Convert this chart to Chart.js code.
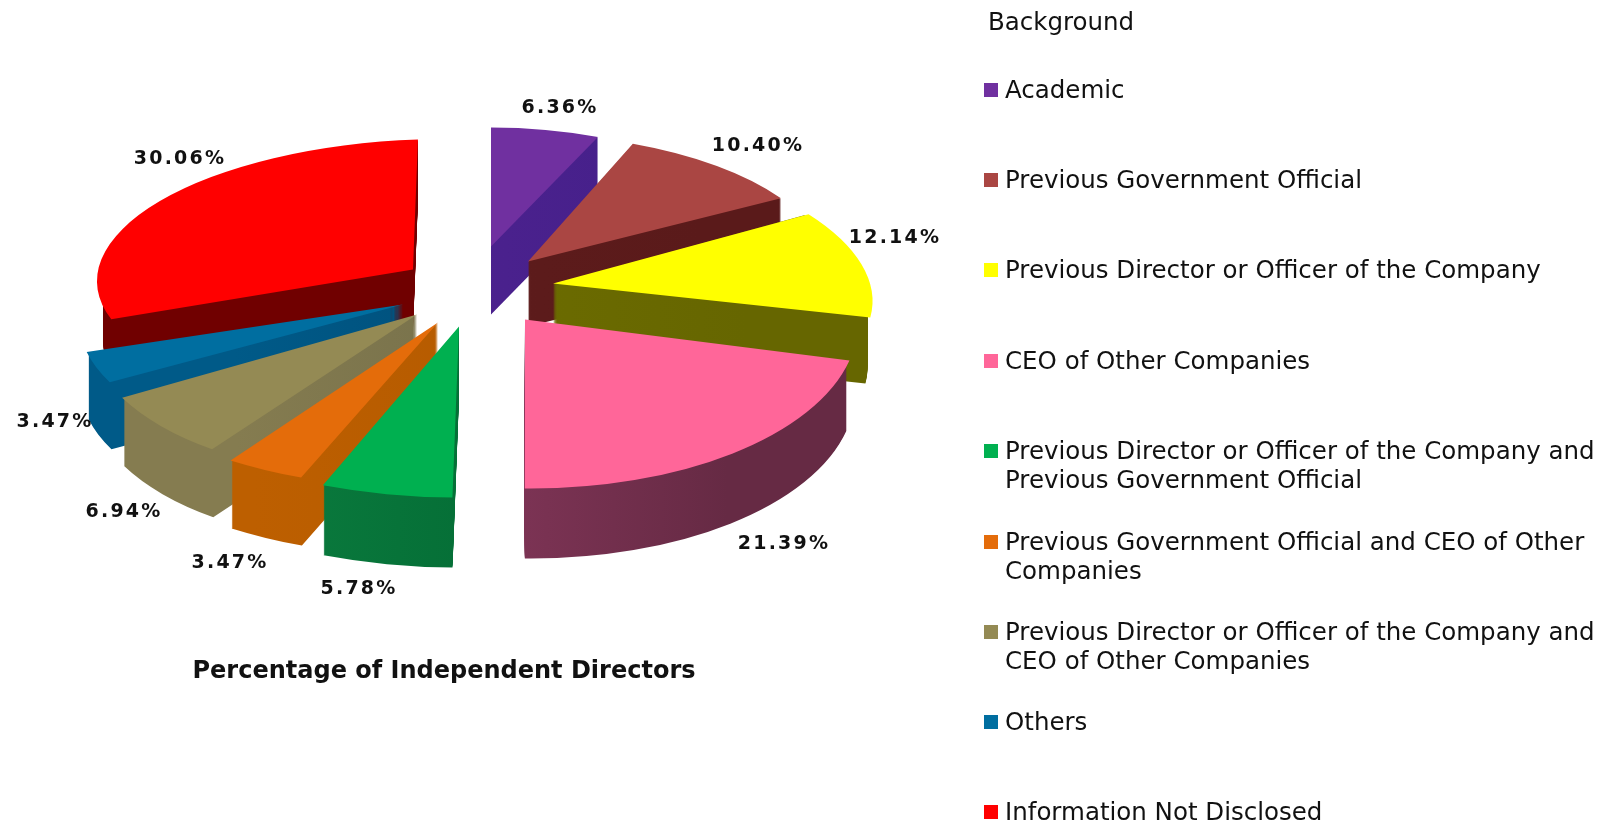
<!DOCTYPE html>
<html>
<head>
<meta charset="utf-8">
<title>Percentage of Independent Directors</title>
<script src="https://cdn.jsdelivr.net/npm/chart.js@4/dist/chart.umd.min.js"></script>
<style>
    html,body{margin:0;padding:0;background:#fff;}
    #wrap{position:relative;width:1604px;height:824px;overflow:hidden;}
    #legend{position:absolute;left:0;top:0;font-family:"DejaVu Sans",sans-serif;font-size:24.5px;line-height:29px;color:#111;}
    .item{position:absolute;left:1005px;width:598px;}
    .mark{position:absolute;left:-21px;top:8px;width:14px;height:14px;}
</style>
</head>
<body>
<div id="wrap">
    <canvas id="pie" width="1604" height="824"></canvas>
    <div id="legend"></div>
</div>
<script>
// DATA
const legendTitle = "Background";
const chartTitle = "Percentage of Independent Directors";
const categories = [
    "Academic",
    "Previous Government Official",
    "Previous Director or Officer of the Company",
    "CEO of Other Companies",
    "Previous Director or Officer of the Company and Previous Government Official",
    "Previous Government Official and CEO of Other Companies",
    "Previous Director or Officer of the Company and CEO of Other Companies",
    "Others",
    "Information Not Disclosed"
];
const values = [6.36,10.40,12.14,21.39,5.78,3.47,6.94,3.47,30.06];

// COLOURS
const faceColors = ["#7030a0","#aa4643","#ffff00","#ff6699","#00b050","#e46c0a","#948a54","#006ea0","#ff0000"];
const wallLeft = ["#4f2290","#5e1c1c","#6e6e00","#8c3a60","#0a7a3d","#bd5f00","#857c50","#005a88","#700000"];
const wallRight = ["#45208a","#5a1a1a","#666600","#662a44","#006330","#b05800","#6e6a48","#004a75","#700000"];

// 3D LOOK: how each slice is pulled out of the pie and flattened
const pullX = [47,84,109,81,15,-6,-27,-41,-31];
const pullY = [-82,-67,-45,-9,-2,-6,-14,-24,-59];
const radiusX = [275,298,317,333,366,368,329,323,316];
const radiusY = [119,128,140,169,171,167,163,152,130];
const skewX = [0,0.094,0.287,0.034,0,0,-0.144,-0.2,-0.038];
const skewY = [0,0,0,0,0,0,0,0,-0.03];
const depth = [68,65,66,70,70,68,68,67,60];
const wallShrink = [0,0,5,3,2,2,2,2,6];
const drawOrder = [8,0,1,2,7,6,5,4,3];

// label spots, relative to pie centre
const labelX = [116,314,451,340,-85,-214,-320,-389,-264];
const labelY = [-221,-183,-91,215,260,234,183,93,-170];

// LEGEND
const legendTop = [75,165,255,346,436,527,617,707,797];
let legend = document.getElementById("legend");
legend.innerHTML = `<div style="position:absolute;left:988px;top:7px">${legendTitle}</div>`;
categories.forEach((c,i)=>{
    legend.innerHTML += `
    <div class="item" style="top:${legendTop[i]}px">
    <span class="mark" style="background:${faceColors[i]}"></span>${c}
    </div>`;
});

// draws every slice as a flattened, extruded arc
const slices3d = {
    id:"slices3d",
    beforeDatasetsDraw(chart){
        let ctx = chart.ctx;
        let arcs = chart.getDatasetMeta(0).data;
        drawOrder.forEach(i=>{
            let arc = arcs[i];
            let base = arc.options;
            let R = arc.outerRadius;
            let grad = ctx.createLinearGradient(arc.x-R,0,arc.x+R,0);
            grad.addColorStop(0.25,wallLeft[i]);
            grad.addColorStop(0.8,wallRight[i]);
            for(let d=depth[i];d>=0;d--){
                let rx = d===0 ? radiusX[i] : radiusX[i]-wallShrink[i];
                arc.options = Object.assign({},base,{backgroundColor:d===0?faceColors[i]:grad});
                ctx.save();
                ctx.translate(arc.x+pullX[i],arc.y+pullY[i]+d);
                ctx.transform(1,skewY[i],skewX[i],1,0,0);
                ctx.scale(rx/R,radiusY[i]/R);
                ctx.translate(-arc.x,-arc.y);
                arc.draw(ctx);
                ctx.restore();
            }
            arc.options = base;
        });
        return false;
    },
    afterDraw(chart){
        let ctx = chart.ctx;
        let arcs = chart.getDatasetMeta(0).data;
        ctx.save();
        ctx.font = "bold 19px 'DejaVu Sans'";
        ctx.letterSpacing = "2.2px";
        ctx.fillStyle = "#111";
        ctx.textAlign = "center";
        ctx.textBaseline = "middle";
        values.forEach((v,i)=>{
            ctx.fillText(v.toFixed(2)+"%",arcs[i].x+labelX[i],arcs[i].y+labelY[i]);
        });
        ctx.restore();
    }
};

new Chart(document.getElementById("pie"),{
    type:"pie",
    data:{
        labels:categories,
        datasets:[{data:values,backgroundColor:faceColors,borderWidth:0}]
    },
    options:{
        responsive:false,
        animation:false,
        layout:{padding:{left:0,right:716,top:0,bottom:138}},
        plugins:{
            legend:{display:false},
            tooltip:{enabled:false},
            title:{
                display:true,
                position:"bottom",
                text:chartTitle,
                color:"#111",
                padding:0,
                font:{family:"'DejaVu Sans'",size:24,weight:"bold"}
            }
        }
    },
    plugins:[slices3d]
});
</script>
</body>
</html>
